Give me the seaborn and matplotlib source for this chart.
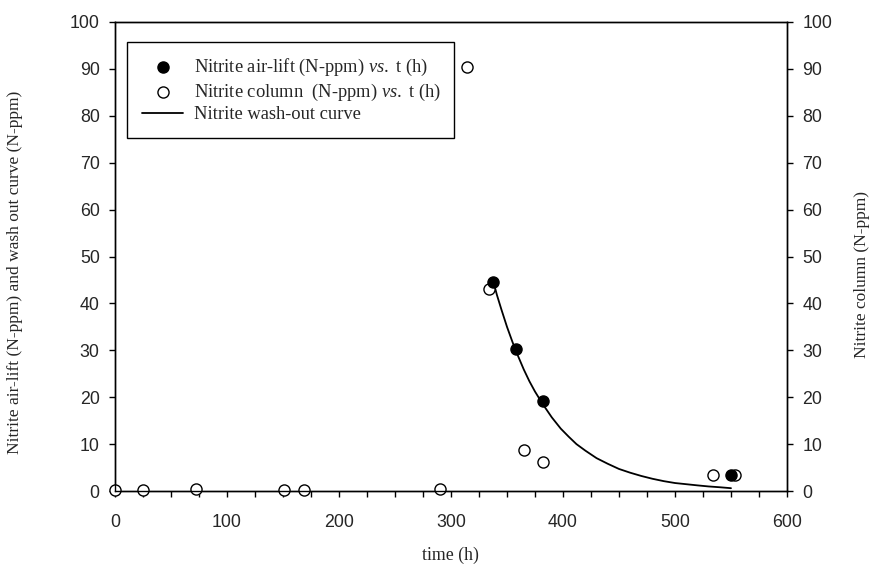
import matplotlib
matplotlib.use("Agg")
import matplotlib.pyplot as plt
from matplotlib.ticker import MultipleLocator
import seaborn as sns
import pandas as pd

# Nitrite measured in the air-lift reactor
airlift_t = [337.8, 358.0, 382.4, 549.7]
airlift_n = [44.5, 30.2, 19.2, 3.4]

# Nitrite measured in the column
column_t = [0, 25, 72, 151, 169, 290, 314, 333.5, 365, 382, 533.5, 553.5]
column_n = [0.3, 0.2, 0.5, 0.2, 0.2, 0.4, 90.5, 43.0, 8.8, 6.1, 3.4, 3.4]

# Wash-out curve for nitrite
curve_t = [338, 341, 345, 350, 355, 360, 365, 370, 375, 382, 390, 398, 405,
           412, 420, 430, 440, 450, 460, 470, 480, 490, 500, 510, 520, 530,
           540, 550]
curve_n = [44.5, 41.8, 38.7, 35.0, 31.7, 28.7, 25.9, 23.4, 21.2, 18.5, 15.7,
           13.3, 11.6, 10.0, 8.6, 7.0, 5.8, 4.7, 3.9, 3.2, 2.6, 2.1, 1.7, 1.45,
           1.2, 0.97, 0.8, 0.6]

x_ticks = [0, 100, 200, 300, 400, 500, 600]
y_ticks = [0, 10, 20, 30, 40, 50, 60, 70, 80, 90, 100]

label_airlift = r"Nitrite air-lift (N-ppm) $\mathit{vs.}$ t (h)"
label_column = r"Nitrite column  (N-ppm) $\mathit{vs.}$ t (h)"
label_curve = "Nitrite wash-out curve"

sns.set_style("ticks")
plt.rcParams["font.family"] = ["Liberation Serif", "DejaVu Serif"]
plt.rcParams["mathtext.fontset"] = "custom"
plt.rcParams["mathtext.rm"] = "Liberation Serif"
plt.rcParams["mathtext.it"] = "Liberation Serif:italic"

df_air = pd.DataFrame({"t": airlift_t, "n": airlift_n})
df_col = pd.DataFrame({"t": column_t, "n": column_n})
df_curve = pd.DataFrame({"t": curve_t, "n": curve_n})

fig = plt.figure(figsize=(8.71, 5.65), dpi=100)
ax = fig.add_axes([115 / 871, 1 - 491 / 565, 672 / 871, 469 / 565])

sns.scatterplot(data=df_col, x="t", y="n", ax=ax, s=64, marker="o",
                facecolor="white", edgecolor="black", linewidth=1.0,
                label=label_column, clip_on=False, zorder=3)
sns.lineplot(data=df_curve, x="t", y="n", ax=ax, color="black",
             linewidth=1.3, label=label_curve, zorder=2)
sns.scatterplot(data=df_air, x="t", y="n", ax=ax, s=64, marker="o",
                color="black", edgecolor="black", linewidth=1.0,
                label=label_airlift, clip_on=False, zorder=4)

ax.set_xlim(0, 600)
ax.set_ylim(0, 100)
ax.set_xticks(x_ticks)
ax.set_yticks(y_ticks)
ax.xaxis.set_minor_locator(MultipleLocator(25))

tick_font = {"family": ["Liberation Sans", "DejaVu Sans"], "size": 12.8}
ax.set_xticklabels([str(v) for v in x_ticks], fontdict=tick_font)
ax.set_yticklabels([str(v) for v in y_ticks], fontdict=tick_font)
ax.tick_params(axis="x", which="both", direction="out", length=4.5,
               width=1.0, color="black", pad=12)
ax.tick_params(axis="y", which="major", direction="out", length=4.5,
               width=1.0, color="black", pad=6.5)

for side in ["left", "right", "top", "bottom"]:
    ax.spines[side].set_visible(True)
    ax.spines[side].set_color("black")
    ax.spines[side].set_linewidth(1.0)

ax.set_xlabel("time (h)", fontsize=12.8)
ax.xaxis.set_label_coords(335 / 672, -56 / 469)
ax.set_ylabel("Nitrite air-lift (N-ppm) and wash out curve (N-ppm)",
              fontsize=12.5)
ax.yaxis.set_label_coords(-92 / 672, 219 / 469)

# Right-hand axis for the column readings (same scale)
ax2 = ax.twinx()
ax2.set_ylim(0, 100)
ax2.set_yticks(y_ticks)
ax2.set_yticklabels([str(v) for v in y_ticks], fontdict=tick_font)
ax2.tick_params(axis="y", direction="out", length=4.5, width=1.0,
                color="black", pad=6.5)
for side in ["left", "right", "top", "bottom"]:
    ax2.spines[side].set_color("black")
    ax2.spines[side].set_linewidth(1.0)
ax2.set_ylabel("Nitrite column (N-ppm)", fontsize=12.5, rotation=90)
ax2.yaxis.set_label_coords(739 / 672, 216 / 469)

handles, labels = ax.get_legend_handles_labels()
order = [labels.index(label_airlift), labels.index(label_column),
         labels.index(label_curve)]
leg = ax.legend([handles[i] for i in order], [labels[i] for i in order],
                loc="upper left",
                bbox_to_anchor=(12 / 672, 0.0, 327 / 672, 449 / 469),
                mode="expand", borderaxespad=0, fontsize=13.3,
                frameon=True, fancybox=False, edgecolor="black",
                handlelength=2.25, handletextpad=0.6, labelspacing=0.2,
                borderpad=0.8, framealpha=1)
leg.get_frame().set_linewidth(1.0)

fig.savefig("out.png", dpi=100)
